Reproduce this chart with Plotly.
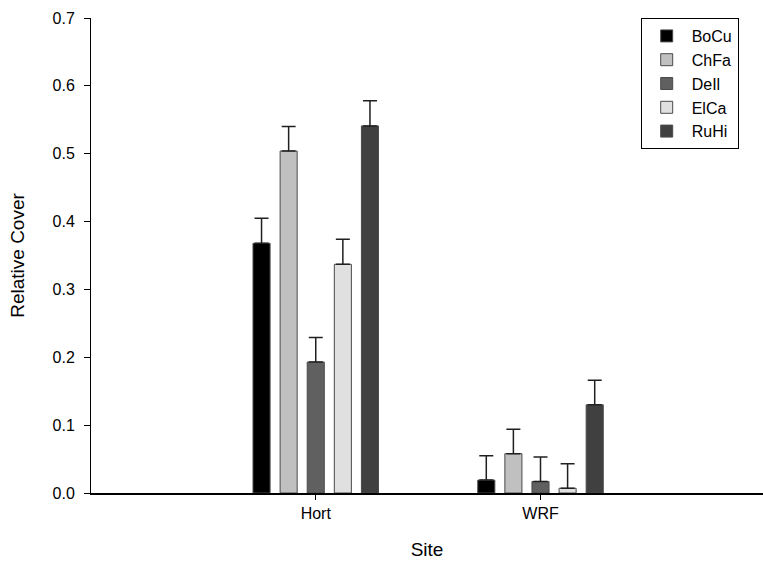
import plotly.graph_objects as go

sites = ["Hort", "WRF"]
species = ["BoCu", "ChFa", "DeIl", "ElCa", "RuHi"]
colors = ["#000000", "#c0c0c0", "#606060", "#e0e0e0", "#404040"]
means = {
    "BoCu": [0.368, 0.019],
    "ChFa": [0.504, 0.058],
    "DeIl": [0.193, 0.017],
    "ElCa": [0.337, 0.007],
    "RuHi": [0.541, 0.130],
}
errors = {
    "BoCu": [0.037, 0.036],
    "ChFa": [0.036, 0.036],
    "DeIl": [0.036, 0.036],
    "ElCa": [0.037, 0.036],
    "RuHi": [0.037, 0.036],
}
yticks = [0.0, 0.1, 0.2, 0.3, 0.4, 0.5, 0.6, 0.7]

fig = go.Figure()
for sp, col in zip(species, colors):
    fig.add_trace(go.Bar(
        name=sp, x=sites, y=means[sp],
        marker=dict(color=col, line=dict(color="#4a4a4a", width=1)),
        error_y=dict(type="data", array=errors[sp], symmetric=False,
                     arrayminus=[0, 0], color="#202020", thickness=1.5, width=7),
    ))

font = "Liberation Sans, Arial, sans-serif"
fig.update_layout(
    width=763, height=569,
    margin=dict(l=91, r=0, t=18, b=76, pad=0),
    paper_bgcolor="white", plot_bgcolor="white",
    barmode="group", bargap=0.397, bargroupgap=0.37,
    font=dict(family=font, size=16, color="black"),
    showlegend=True,
    legend=dict(x=0.818, y=1.0, xanchor="left", yanchor="top",
                bordercolor="black", borderwidth=1, bgcolor="white",
                font=dict(family=font, size=16), itemwidth=40,
                tracegroupgap=0),
    xaxis=dict(type="category", range=[-1, 1.99], showline=True, linecolor="black",
               linewidth=1.5, ticks="outside", ticklen=5, tickcolor="black",
               showgrid=False, zeroline=False,
               title=dict(text="Site", font=dict(size=19), standoff=22),
               tickfont=dict(size=16)),
    yaxis=dict(range=[0, 0.7], tickvals=yticks, tickformat=".1f", showline=True,
               linecolor="black", linewidth=1, ticks="outside", ticklen=6,
               tickcolor="black", showgrid=False, zeroline=False,
               ticklabelstandoff=6,
               title=dict(text="Relative Cover", font=dict(size=19), standoff=22),
               tickfont=dict(size=16)),
)
fig.write_html("out.html")
